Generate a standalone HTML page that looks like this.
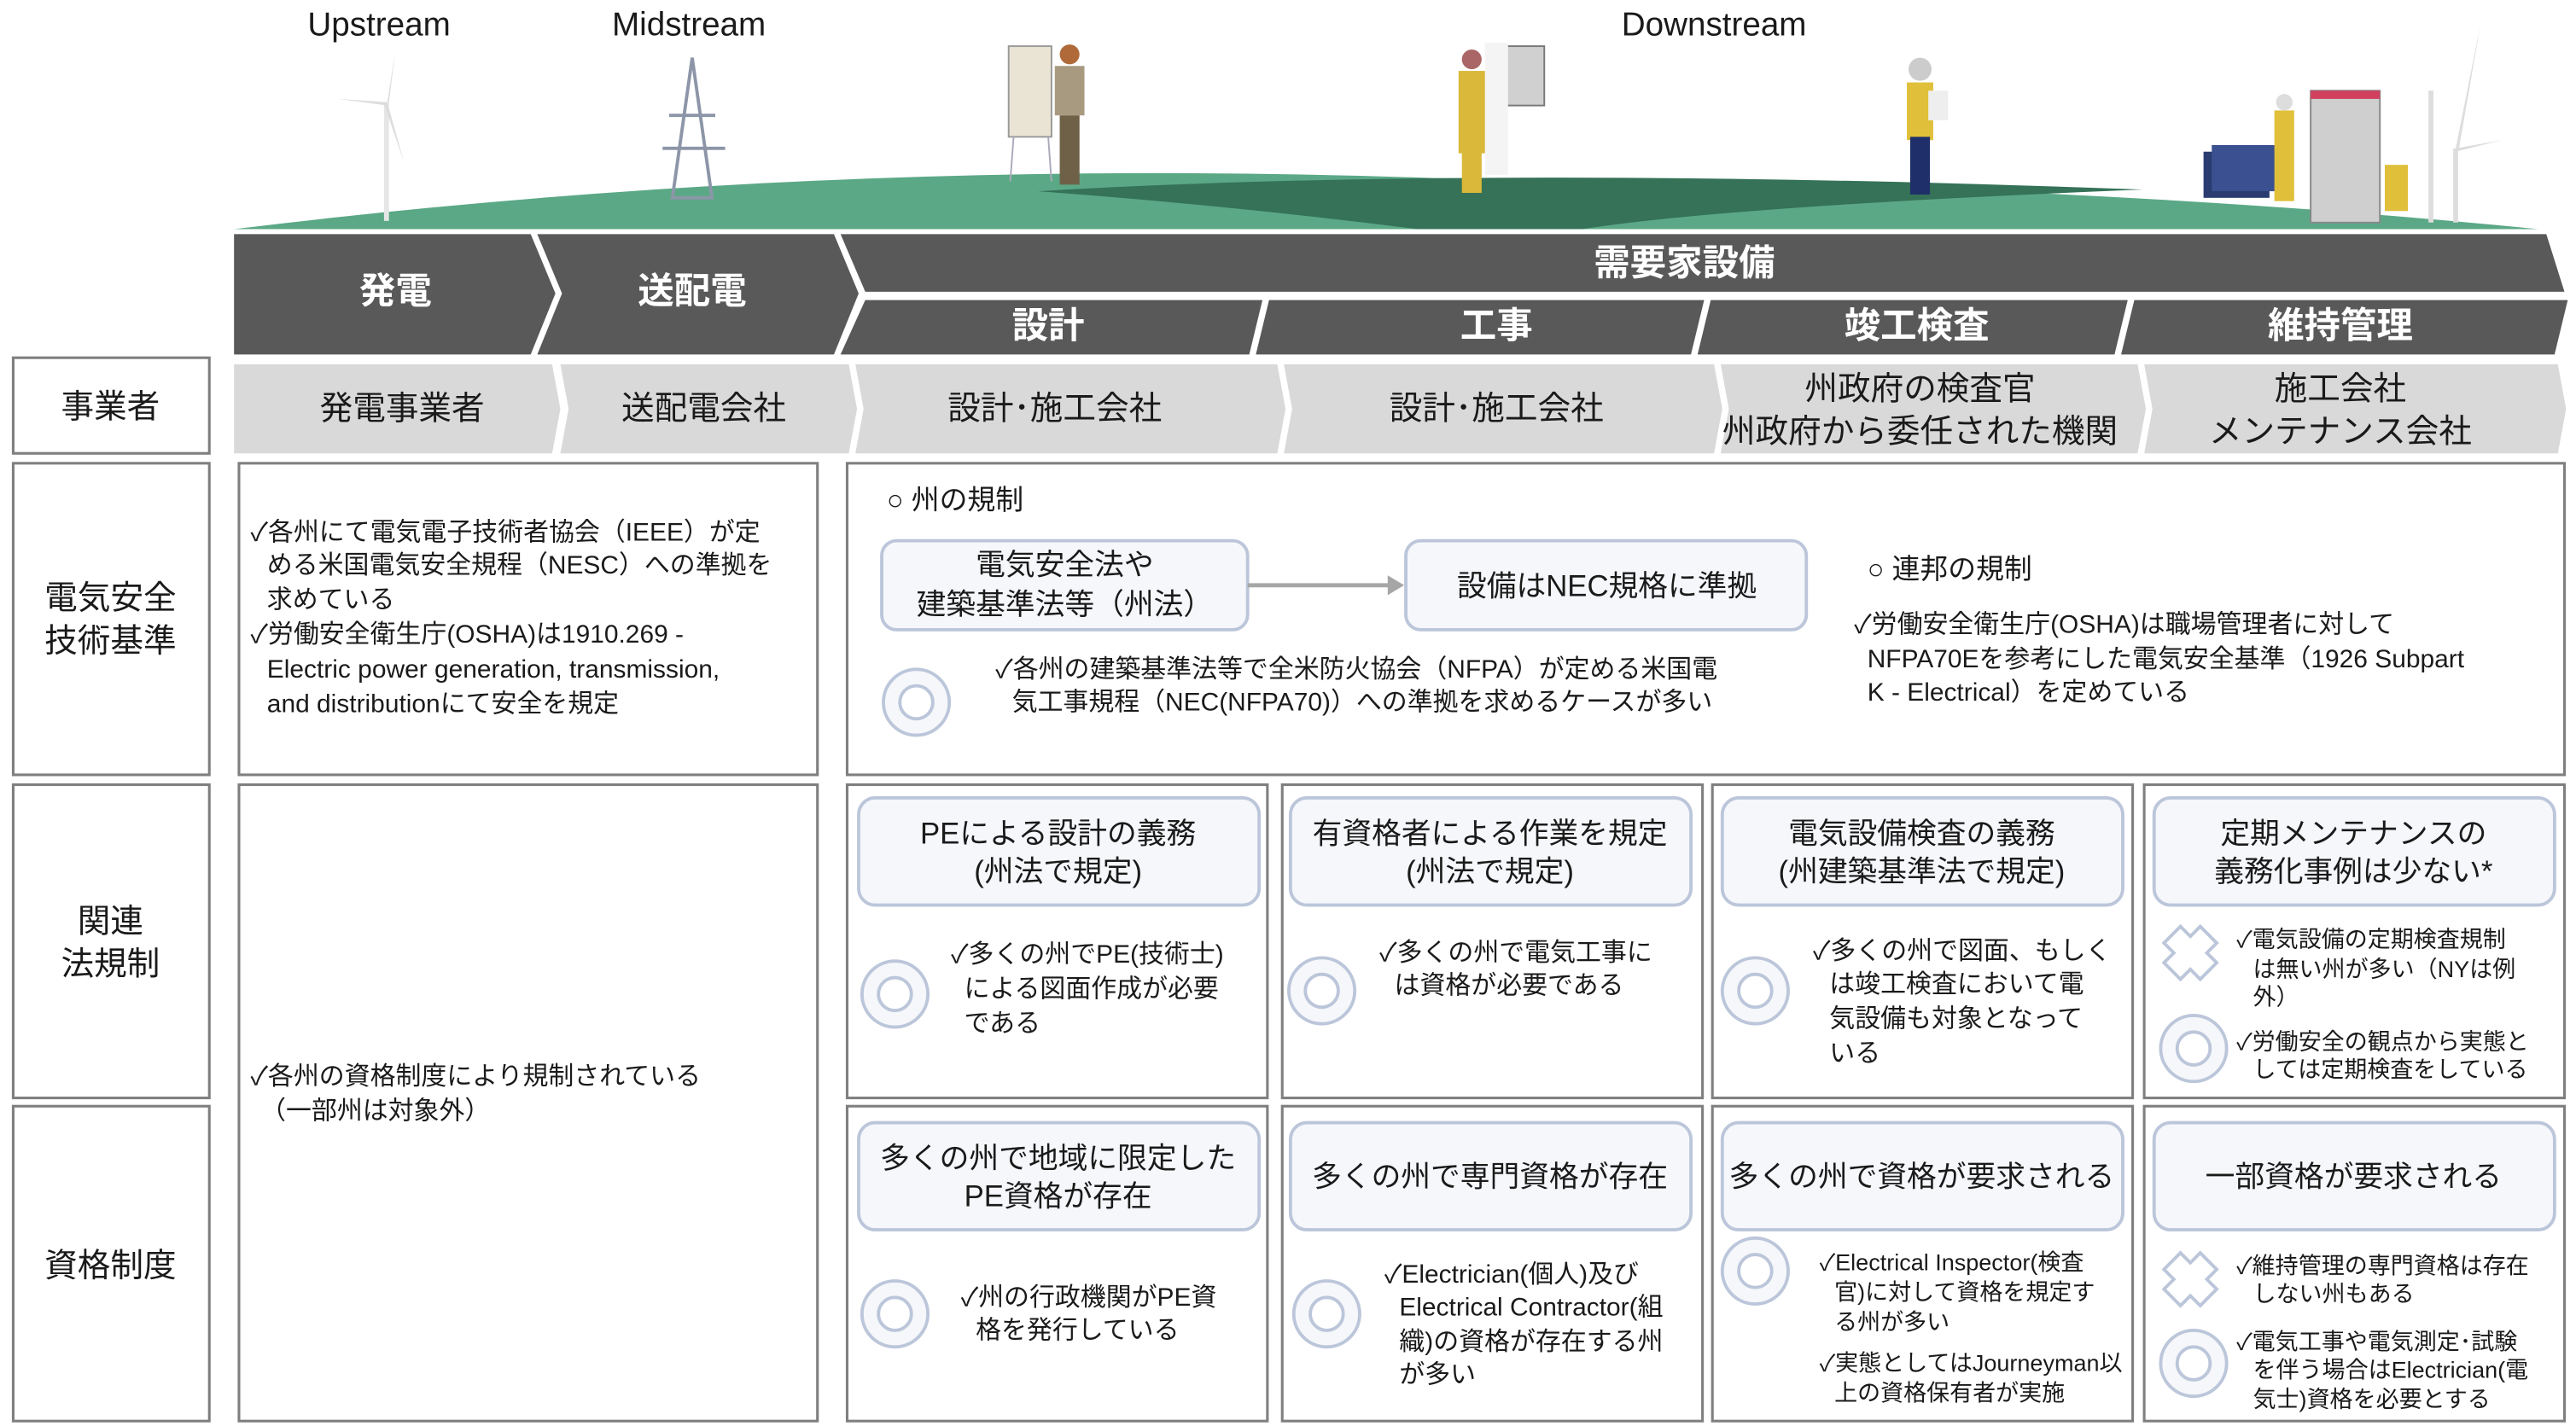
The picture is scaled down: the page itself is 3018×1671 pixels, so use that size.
<!DOCTYPE html>
<html><head><meta charset="utf-8"><style>
html,body{margin:0;padding:0;background:#fff;}
svg{display:block;}
text{font-family:"Liberation Sans","Noto Sans CJK JP",sans-serif;fill:#1a1a1a;dominant-baseline:central;}
.w{fill:#fff;font-weight:bold;font-size:22px;}
.hd{font-size:20px;text-anchor:middle;}
.b{font-size:15.5px;}
.s{font-size:14px;}
.t{font-size:18px;text-anchor:middle;}
.lb{font-size:20px;text-anchor:middle;}
.box{fill:#F5F7FA;stroke:#BCC6DA;stroke-width:2;}
.cell{fill:#fff;stroke:#7F7F7F;stroke-width:1.6;}
</style></head><body>
<svg width="3018" height="1671" viewBox="0 0 1563 865" preserveAspectRatio="none" xmlns="http://www.w3.org/2000/svg">
<defs>
<g id="oc"><circle r="20" fill="#F5F7FA" stroke="#BCC6DA" stroke-width="2"/><circle r="10" fill="#fff" stroke="#BCC6DA" stroke-width="2"/></g>
<g id="xc"><polygon points="-6,-16 0,-10 6,-16 16,-6 10,0 16,6 6,16 0,10 -6,16 -16,6 -10,0 -16,-6" fill="#fff" stroke="#BCC6DA" stroke-width="2"/></g>
</defs>
<!-- top labels -->
<text x="230" y="15" class="hd">Upstream</text>
<text x="418" y="15" class="hd">Midstream</text>
<text x="1040" y="15" class="hd">Downstream</text>
<!-- hill -->
<path d="M142,139 Q500,95 870,108 Q1250,110 1540,139 Z" fill="#5BA886"/>
<path d="M630,116 Q900,100 1300,115 Q1050,125 960,139 L860,139 Q750,125 630,116 Z" fill="#357257"/>
<!-- turbine 1 -->
<rect x="233" y="62" width="3" height="72" fill="#e6e6e6"/>
<polygon points="235,62 240,30 236,62" fill="#ddd"/><polygon points="235,62 245,98 233,63" fill="#ddd"/><polygon points="235,62 205,60 235,64" fill="#ddd"/>
<!-- tower -->
<polygon points="420,35 408,120 432,120" fill="none" stroke="#8d96a8" stroke-width="2"/>
<line x1="402" y1="90" x2="440" y2="90" stroke="#8d96a8" stroke-width="2"/><line x1="406" y1="70" x2="434" y2="70" stroke="#8d96a8" stroke-width="2"/>
<!-- person 1 -->
<rect x="612" y="28" width="26" height="55" fill="#e9e4d4" stroke="#999"/>
<line x1="615" y1="83" x2="613" y2="110" stroke="#aab"/><line x1="636" y1="83" x2="638" y2="110" stroke="#aab"/>
<rect x="640" y="40" width="18" height="30" fill="#a89a80"/><rect x="643" y="70" width="12" height="42" fill="#6e6148"/><circle cx="649" cy="33" r="6" fill="#b06a3a"/>
<!-- person 2 -->
<rect x="907" y="28" width="30" height="36" fill="#d0d0d0" stroke="#777"/><rect x="901" y="26" width="14" height="80" fill="#f4f4f4"/>
<rect x="885" y="43" width="16" height="50" fill="#d9b83a"/><rect x="887" y="90" width="12" height="27" fill="#d9b83a"/><circle cx="893" cy="36" r="6" fill="#a66"/>
<!-- person 3 -->
<circle cx="1165" cy="42" r="7" fill="#ccc"/><rect x="1157" y="50" width="16" height="35" fill="#e0c03a"/><rect x="1159" y="83" width="12" height="35" fill="#1e2f6a"/><rect x="1170" y="55" width="12" height="18" fill="#eee"/>
<!-- maintenance -->
<rect x="1337" y="92" width="40" height="28" fill="#2a3c70"/><rect x="1342" y="88" width="40" height="28" fill="#3a5090"/>
<rect x="1402" y="55" width="42" height="80" fill="#cfcfcf" stroke="#888"/><rect x="1402" y="55" width="42" height="5" fill="#d24060"/>
<rect x="1380" y="67" width="12" height="55" fill="#e0c03a"/><circle cx="1386" cy="62" r="5" fill="#ddd"/>
<rect x="1447" y="100" width="14" height="28" fill="#e0c03a"/>
<line x1="1475" y1="55" x2="1475" y2="135" stroke="#ddd" stroke-width="3"/><line x1="1490" y1="90" x2="1490" y2="135" stroke="#ddd" stroke-width="3"/>
<polygon points="1490,90 1505,15 1492,90" fill="#ddd"/><polygon points="1490,90 1518,85 1490,92" fill="#ddd"/>
<!-- top chevrons -->
<g fill="#595959">
<polygon points="142,142 322,142 337,178 322,215 142,215"/>
<polygon points="326,142 506,142 521,178 506,215 326,215 341,178"/>
<polygon points="510,142 1545,142 1556,177 525,177"/>
<polygon points="525,182 766,182 758,215 510,215"/>
<polygon points="770,182 1034,182 1026,215 762,215"/>
<polygon points="1038,182 1291,182 1283,215 1030,215"/>
<polygon points="1295,182 1558,182 1550,215 1287,215"/>
</g>
<text x="240" y="177" class="w" text-anchor="middle">発電</text>
<text x="420" y="177" class="w" text-anchor="middle">送配電</text>
<text x="1022" y="160" class="w" text-anchor="middle">需要家設備</text>
<text x="636" y="198" class="w" text-anchor="middle">設計</text>
<text x="908" y="198" class="w" text-anchor="middle">工事</text>
<text x="1163" y="198" class="w" text-anchor="middle">竣工検査</text>
<text x="1420" y="198" class="w" text-anchor="middle">維持管理</text>
<!-- row 2 -->
<g fill="#D9D9D9">
<polygon points="142,221 335,221 340,248 335,275 142,275"/>
<polygon points="340,221 515,221 520,248 515,275 340,275 345,248"/>
<polygon points="519,221 775,221 780,248 775,275 519,275 524,248"/>
<polygon points="779,221 1040,221 1045,248 1040,275 779,275 784,248"/>
<polygon points="1044,221 1297,221 1302,248 1297,275 1044,275 1049,248"/>
<polygon points="1301,221 1552,221 1557,248 1552,275 1301,275 1306,248"/>
</g>
<text x="244" y="248" class="lb">発電事業者</text>
<text x="427" y="248" class="lb">送配電会社</text>
<text x="640" y="248" class="lb">設計･施工会社</text>
<text x="908" y="248" class="lb">設計･施工会社</text>
<text x="1165" y="236" class="lb">州政府の検査官</text>
<text x="1165" y="262" class="lb">州政府から委任された機関</text>
<text x="1420" y="236" class="lb">施工会社</text>
<text x="1420" y="262" class="lb">メンテナンス会社</text>
<!-- left labels -->
<rect x="8" y="217" width="119" height="58" class="cell"/>
<rect x="8" y="281" width="119" height="189" class="cell"/>
<rect x="8" y="476" width="119" height="190" class="cell"/>
<rect x="8" y="671" width="119" height="191" class="cell"/>
<text x="67" y="247" class="lb">事業者</text>
<text x="67" y="363" class="lb">電気安全</text><text x="67" y="389" class="lb">技術基準</text>
<text x="67" y="559" class="lb">関連</text><text x="67" y="585" class="lb">法規制</text>
<text x="67" y="768" class="lb">資格制度</text>
<!-- cells -->
<rect x="145" y="281" width="351" height="189" class="cell"/>
<rect x="145" y="476" width="351" height="386" class="cell"/>
<rect x="514" y="281" width="1042" height="189" class="cell"/>
<rect x="514" y="476" width="255" height="190" class="cell"/>
<rect x="778" y="476" width="255" height="190" class="cell"/>
<rect x="1039" y="476" width="255" height="190" class="cell"/>
<rect x="1301" y="476" width="255" height="190" class="cell"/>
<rect x="514" y="671" width="255" height="191" class="cell"/>
<rect x="778" y="671" width="255" height="191" class="cell"/>
<rect x="1039" y="671" width="255" height="191" class="cell"/>
<rect x="1301" y="671" width="255" height="191" class="cell"/>
<!-- col1 -->
<text x="152" y="323" class="b">✓各州にて電気電子技術者協会（IEEE）が定</text>
<text x="162" y="343" class="b">める米国電気安全規程（NESC）への準拠を</text>
<text x="162" y="364" class="b">求めている</text>
<text x="152" y="385" class="b">✓労働安全衛生庁(OSHA)は1910.269 -</text>
<text x="162" y="406" class="b">Electric power generation, transmission,</text>
<text x="162" y="427" class="b">and distributionにて安全を規定</text>
<text x="152" y="653" class="b">✓各州の資格制度により規制されている</text>
<text x="158" y="674" class="b">（一部州は対象外）</text>
<!-- row1 right -->
<text x="538" y="303" style="font-size:17px">○  州の規制</text>
<rect x="535" y="328" width="222" height="54" rx="9" class="box"/>
<text x="646" y="343" class="t">電気安全法や</text><text x="646" y="367" class="t">建築基準法等（州法）</text>
<line x1="757" y1="355" x2="843" y2="355" stroke="#A6A6A6" stroke-width="2.5"/>
<polygon points="842,349 852,355 842,361" fill="#A6A6A6"/>
<rect x="853" y="328" width="243" height="54" rx="9" class="box"/>
<text x="975" y="356" class="t">設備はNEC規格に準拠</text>
<use href="#oc" x="556" y="426"/>
<text x="604" y="406" class="b">✓各州の建築基準法等で全米防火協会（NFPA）が定める米国電</text>
<text x="614" y="426" class="b">気工事規程（NEC(NFPA70)）への準拠を求めるケースが多い</text>
<text x="1133" y="345" style="font-size:17px">○  連邦の規制</text>
<text x="1125" y="379" class="b">✓労働安全衛生庁(OSHA)は職場管理者に対して</text>
<text x="1133" y="400" class="b">NFPA70Eを参考にした電気安全基準（1926 Subpart</text>
<text x="1133" y="420" class="b">K - Electrical）を定めている</text>
<!-- row3 -->
<rect x="521" y="484" width="243" height="65" rx="10" class="box"/>
<text x="642" y="506" class="t">PEによる設計の義務</text><text x="642" y="529" class="t">(州法で規定)</text>
<use href="#oc" x="543" y="603"/>
<text x="577" y="579" class="b">✓多くの州でPE(技術士)</text>
<text x="585" y="600" class="b">による図面作成が必要</text>
<text x="585" y="621" class="b">である</text>
<rect x="783" y="484" width="243" height="65" rx="10" class="box"/>
<text x="904" y="506" class="t">有資格者による作業を規定</text><text x="904" y="529" class="t">(州法で規定)</text>
<use href="#oc" x="802" y="601"/>
<text x="837" y="578" class="b">✓多くの州で電気工事に</text>
<text x="846" y="598" class="b">は資格が必要である</text>
<rect x="1045" y="484" width="243" height="65" rx="10" class="box"/>
<text x="1166" y="506" class="t">電気設備検査の義務</text><text x="1166" y="529" class="t">(州建築基準法で規定)</text>
<use href="#oc" x="1065" y="601"/>
<text x="1100" y="577" class="b">✓多くの州で図面、もしく</text>
<text x="1110" y="597" class="b">は竣工検査において電</text>
<text x="1110" y="618" class="b">気設備も対象となって</text>
<text x="1110" y="639" class="b">いる</text>
<rect x="1307" y="484" width="243" height="65" rx="10" class="box"/>
<text x="1428" y="506" class="t">定期メンテナンスの</text><text x="1428" y="529" class="t">義務化事例は少ない*</text>
<use href="#xc" x="1329" y="578"/>
<text x="1357" y="570" class="s">✓電気設備の定期検査規制</text>
<text x="1367" y="588" class="s">は無い州が多い（NYは例</text>
<text x="1367" y="605" class="s">外）</text>
<use href="#oc" x="1331" y="636"/>
<text x="1357" y="632" class="s">✓労働安全の観点から実態と</text>
<text x="1367" y="649" class="s">しては定期検査をしている</text>
<!-- row4 -->
<rect x="521" y="681" width="243" height="65" rx="10" class="box"/>
<text x="642" y="703" class="t">多くの州で地域に限定した</text><text x="642" y="726" class="t">PE資格が存在</text>
<use href="#oc" x="543" y="797"/>
<text x="583" y="787" class="b">✓州の行政機関がPE資</text>
<text x="592" y="807" class="b">格を発行している</text>
<rect x="783" y="681" width="243" height="65" rx="10" class="box"/>
<text x="904" y="714" class="t">多くの州で専門資格が存在</text>
<use href="#oc" x="805" y="797"/>
<text x="840" y="773" class="b">✓Electrician(個人)及び</text>
<text x="849" y="793" class="b">Electrical Contractor(組</text>
<text x="849" y="814" class="b">織)の資格が存在する州</text>
<text x="849" y="834" class="b">が多い</text>
<rect x="1045" y="681" width="243" height="65" rx="10" class="box"/>
<text x="1166" y="714" class="t">多くの州で資格が要求される</text>
<use href="#oc" x="1065" y="771"/>
<text x="1104" y="766" class="s">✓Electrical Inspector(検査</text>
<text x="1113" y="784" class="s">官)に対して資格を規定す</text>
<text x="1113" y="802" class="s">る州が多い</text>
<text x="1104" y="827" class="s">✓実態としてはJourneyman以</text>
<text x="1113" y="845" class="s">上の資格保有者が実施</text>
<rect x="1307" y="681" width="243" height="65" rx="10" class="box"/>
<text x="1428" y="714" class="t">一部資格が要求される</text>
<use href="#xc" x="1329" y="776"/>
<text x="1357" y="768" class="s">✓維持管理の専門資格は存在</text>
<text x="1367" y="785" class="s">しない州もある</text>
<use href="#oc" x="1331" y="827"/>
<text x="1357" y="814" class="s">✓電気工事や電気測定･試験</text>
<text x="1367" y="831" class="s">を伴う場合はElectrician(電</text>
<text x="1367" y="849" class="s">気士)資格を必要とする</text>
</svg>
</body></html>
